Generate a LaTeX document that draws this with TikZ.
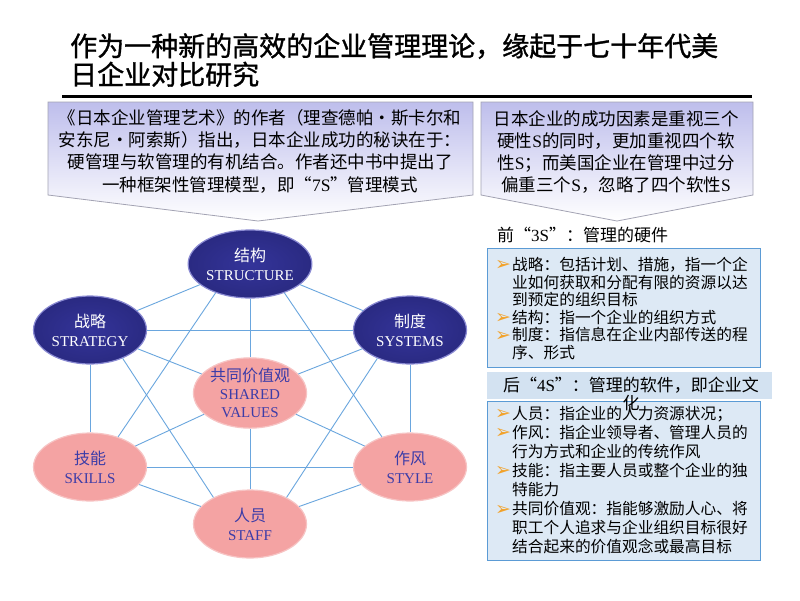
\documentclass[tikz,border=0pt]{standalone}
\usepackage{fontspec}
\setmainfont{Noto Sans CJK SC}
\newfontfamily\lat{Liberation Serif}
\newfontfamily\sym{DejaVu Sans}
\newfontfamily\heavy[FakeBold=1.2]{Noto Sans CJK SC}
\usetikzlibrary{shapes.geometric}

\definecolor{navyin}{HTML}{34349A}
\definecolor{navyout}{HTML}{2A2A82}
\definecolor{navyrim}{HTML}{8A8AD2}
\definecolor{softpink}{HTML}{F4A3A3}
\definecolor{softrim}{HTML}{F7C4C4}
\definecolor{softtext}{HTML}{3C3CA8}
\definecolor{linkblue}{HTML}{6AA6DE}
\definecolor{boxfill}{HTML}{DDE9F5}
\definecolor{boxline}{HTML}{5B9BD5}
\definecolor{headfill}{HTML}{D3E2F1}
\definecolor{calltop}{HTML}{BEBEEC}
\definecolor{callline}{HTML}{A3A3B3}
\definecolor{bulorange}{HTML}{F2A22A}

\newcommand{\en}[1]{{\lat\fontsize{15}{19}\selectfont #1}}
\newcommand{\bul}{\makebox[17pt][l]{\raisebox{-0.5pt}{\sym\fontsize{19}{12}\selectfont\color{bulorange}➢}}}
\newcommand{\ind}{\hspace*{17pt}}

\begin{document}
\begin{tikzpicture}[x=1pt,y=-1pt,
			hard node/.style={ellipse,draw=navyrim,line width=1.2pt,inner color=navyin,outer color=navyout,text=white,minimum width=113pt,minimum height=68pt,inner sep=0pt,align=center,font=\fontsize{16}{19}\selectfont},
			soft node/.style={ellipse,draw=softrim,line width=1.2pt,fill=softpink,text=softtext,minimum width=113pt,minimum height=68pt,inner sep=0pt,align=center,font=\fontsize{16}{19}\selectfont},
			link/.style={linkblue,line width=0.9pt},
			callout/.style={draw=callline,top color=calltop,bottom color=white,line width=0.8pt},
			list box/.style={draw=boxline,fill=boxfill,line width=1pt}
			]

			\def \lx {90};
			\def \mx {250};
			\def \rx {410};

			\fill[white] (0,0) rectangle (800,600);
			\useasboundingbox (0,0) rectangle (800,600);

			% title
			\node[anchor=north west,inner sep=0pt,align=left,font=\heavy\fontsize{27}{28.5}\selectfont] (title) at (70,33)
				{作为一种新的高效的企业管理理论，缘起于七十年代美\\日企业对比研究};
			\draw[line width=3pt] (62,96) -- (752,96);

			% callouts
			\path[callout] (48,102) -- (473,102) -- (473,195) -- (258,221) -- (48,195) -- cycle;
			\node[align=center,inner sep=0pt,font=\fontsize{17.5}{22.3}\selectfont] (book) at (260,151)
				{《日本企业管理艺术》的作者（理查德帕•斯卡尔和\\
				安东尼•阿索斯）指出，日本企业成功的秘诀在于：\\
				硬管理与软管理的有机结合。作者还中书中提出了\\
				一种框架性管理模型，即“{\lat 7S}”管理模式};

			\path[callout] (481,102) -- (753,102) -- (753,195) -- (617,221) -- (481,195) -- cycle;
			\node[align=center,inner sep=0pt,font=\fontsize{17.5}{22.3}\selectfont] (japan) at (616,152)
				{日本企业的成功因素是重视三个\\
				硬性{\lat S}的同时，更加重视四个软\\
				性{\lat S}；而美国企业在管理中过分\\
				偏重三个{\lat S}，忽略了四个软性{\lat S}};

			% hard S
			\node[anchor=west,inner sep=0pt,font=\fontsize{17}{20}\selectfont] (hardhead) at (497,235)
				{前“{\lat 3S}”：管理的硬件};
			\path[list box] (487,248) rectangle (760,367);
			\node[anchor=west,inner sep=0pt,align=left,font=\fontsize{15.7}{17.6}\selectfont] (hardlist) at (495,308.5)
				{\bul 战略：包括计划、措施，指一个企\\
				\ind 业如何获取和分配有限的资源以达\\
				\ind 到预定的组织目标\\
				\bul 结构：指一个企业的组织方式\\
				\bul 制度：指信息在企业内部传送的程\\
				\ind 序、形式};

			% soft S
			\fill[headfill] (487,372) rectangle (772,399);
			\path[list box] (487,401) rectangle (760,560);
			\node[align=center,inner sep=0pt,font=\fontsize{17}{18}\selectfont] (softhead) at (631,394)
				{后“{\lat 4S}”：管理的软件，即企业文\\化};
			\node[anchor=west,inner sep=0pt,align=left,font=\fontsize{15.7}{19.1}\selectfont] (softlist) at (495,480)
				{\bul 人员：指企业的人力资源状况；\\
				\bul 作风：指企业领导者、管理人员的\\
				\ind 行为方式和企业的传统作风\\
				\bul 技能：指主要人员或整个企业的独\\
				\ind 特能力\\
				\bul 共同价值观：指能够激励人心、将\\
				\ind 职工个人追求与企业组织目标很好\\
				\ind 结合起来的价值观念或最高目标};

			% 7S model
			\node[hard node] at (\mx,264) (struct) {结构\\\en{STRUCTURE}};
			\node[hard node] at (\lx,330) (strat) {战略\\\en{STRATEGY}};
			\node[hard node] at (\rx,330) (sys) {制度\\\en{SYSTEMS}};
			\node[soft node,font=\fontsize{16}{18}\selectfont] at (\mx,393) (shared) {共同价值观\\\en{SHARED}\\\en{VALUES}};
			\node[soft node] at (\lx,467) (skills) {技能\\\en{SKILLS}};
			\node[soft node] at (\rx,467) (style) {作风\\\en{STYLE}};
			\node[soft node] at (\mx,524) (staff) {人员\\\en{STAFF}};

			\foreach \a/\b in {struct/strat,struct/sys,struct/shared,strat/sys,strat/shared,strat/skills,
				sys/shared,sys/style,shared/skills,shared/style,shared/staff,skills/style,skills/staff,style/staff}
				\draw[link] (\a) -- (\b);
			\draw[link] (struct.220) -- (skills.47);
			\draw[link] (struct.-40) -- (style.133);
			\draw[link] (strat.-41) -- (staff.144);
			\draw[link] (sys.221) -- (staff.36);
		\end{tikzpicture}
\end{document}
